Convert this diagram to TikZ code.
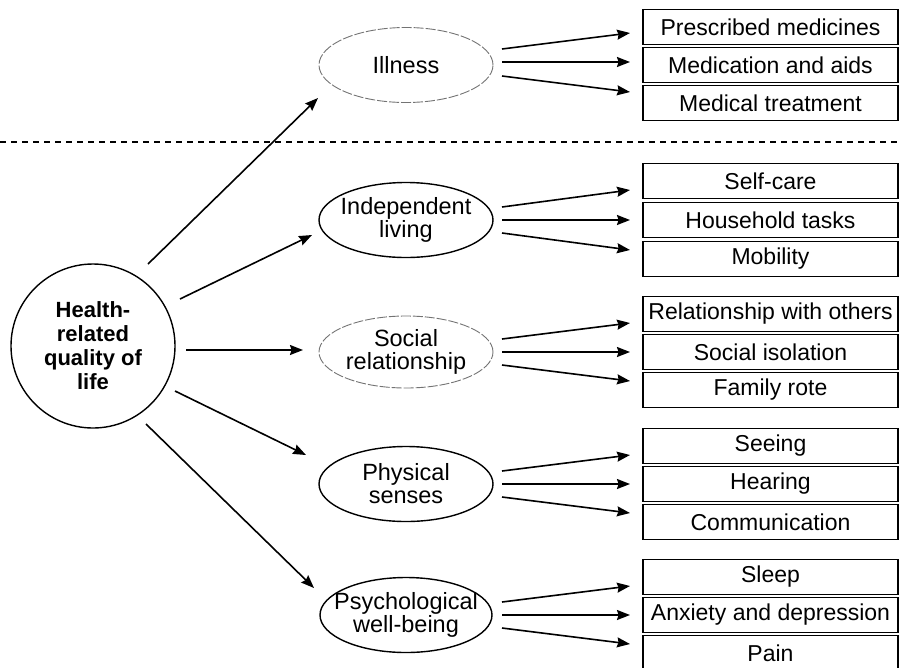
\documentclass[tikz,border=0pt]{standalone}
\usepackage{fontspec}
\setmainfont{Liberation Sans}
\usetikzlibrary{arrows.meta,calc}
\begin{document}
\begin{tikzpicture}[x=1pt,y=-1pt,
  arr/.style={line width=1.6pt,-{Stealth[length=13pt,width=10pt,inset=1.5pt]}},
  itembox/.style={draw,line width=1.5pt,minimum width=255pt,minimum height=35pt,inner sep=0pt,font=\fontsize{23}{24}\selectfont},
  topic/.style={align=center,inner sep=0pt,font=\fontsize{23.5}{23}\selectfont},
  solidell/.style={draw=black,line width=1.4pt},
  faintell/.style={draw=black!55,line width=0.9pt,dash pattern=on 10pt off 2pt},
  hqc/.style={circle,draw,line width=1.4pt,minimum size=164pt,inner sep=0pt,align=center,font=\bfseries\fontsize{22}{24}\selectfont},
  sepline/.style={line width=1.3pt,dash pattern=on 6pt off 5pt}
]
\useasboundingbox (0,0) rectangle (901,667);

% central circle
\node[hqc] (hq) at (93,346) {Health-\\related\\quality of\\life};

% topics
\node[topic] (ill) at (406,65) {Illness};
\node[topic] (ind) at (406,220) {Independent\\living};
\node[topic] (soc) at (406,352) {Social\\relationship};
\node[topic] (phy) at (406,484) {Physical\\senses};
\node[topic] (psy) at (406,615) {Psychological\\well-being};

\draw[faintell] (ill.center) ellipse [x radius=87pt, y radius=37.5pt];
\draw[solidell] (ind.center) ellipse [x radius=87pt, y radius=37.5pt];
\draw[faintell] (soc.center) ellipse [x radius=87pt, y radius=36pt];
\draw[solidell] (phy.center) ellipse [x radius=87pt, y radius=37.5pt];
\draw[solidell] (psy.center) ellipse [x radius=86pt, y radius=37.5pt];

% separator
\coordinate (sepL) at (0,142);
\coordinate (sepR) at (901,142);
\draw[sepline] (sepL) -- (sepR);

% boxes
\node[itembox] (ill1) at (770.5,27) {Prescribed medicines};
\node[itembox] (ill2) at (770.5,65) {Medication and aids};
\node[itembox] (ill3) at (770.5,103) {Medical treatment};

\node[itembox] (ind1) at (770.5,181) {Self-care};
\node[itembox] (ind2) at (770.5,220) {Household tasks};
\node[itembox] (ind3) at (770.5,259) {Mobility};

\node[itembox] (soc1) at (770.5,314) {Relationship with others};
\node[itembox] (soc2) at (770.5,352) {Social isolation};
\node[itembox] (soc3) at (770.5,390) {Family rote};

\node[itembox] (phy1) at (770.5,446) {Seeing};
\node[itembox] (phy2) at (770.5,484) {Hearing};
\node[itembox] (phy3) at (770.5,522) {Communication};

\node[itembox] (psy1) at (770.5,577) {Sleep};
\node[itembox] (psy2) at (770.5,615) {Anxiety and depression};
\node[itembox] (psy3) at (770.5,653) {Pain};

% arrows from the circle
\draw[arr] ($(hq)+(55,-82)$) -- ($(ill)+(-88,33)$);
\draw[arr] ($(hq)+(87,-47)$) -- ($(ind)+(-94,15)$);
\draw[arr] ($(hq)+(93,4)$) -- ($(soc)+(-103,-2)$);
\draw[arr] ($(hq)+(82,45)$) -- ($(phy)+(-100,-29)$);
\draw[arr] ($(hq)+(53,78)$) -- ($(psy)+(-92,-27)$);

% arrows to boxes
\draw[arr] ($(ill)+(96,-16)$) -- ($(ill1)+(-140.5,6)$);
\draw[arr] ($(ill)+(96,-3)$) -- ($(ill2)+(-140.5,-3)$);
\draw[arr] ($(ill)+(96,11)$) -- ($(ill3)+(-140.5,-11)$);

\foreach \t in {ind,soc,phy,psy}{
  \draw[arr] ($(\t)+(96,-13)$) -- ($(\t1)+(-140.5,9)$);
  \draw[arr] ($(\t)+(96,0)$) -- ($(\t2)+(-140.5,0)$);
  \draw[arr] ($(\t)+(96,13)$) -- ($(\t3)+(-140.5,-9)$);
}
\end{tikzpicture}
\end{document}
